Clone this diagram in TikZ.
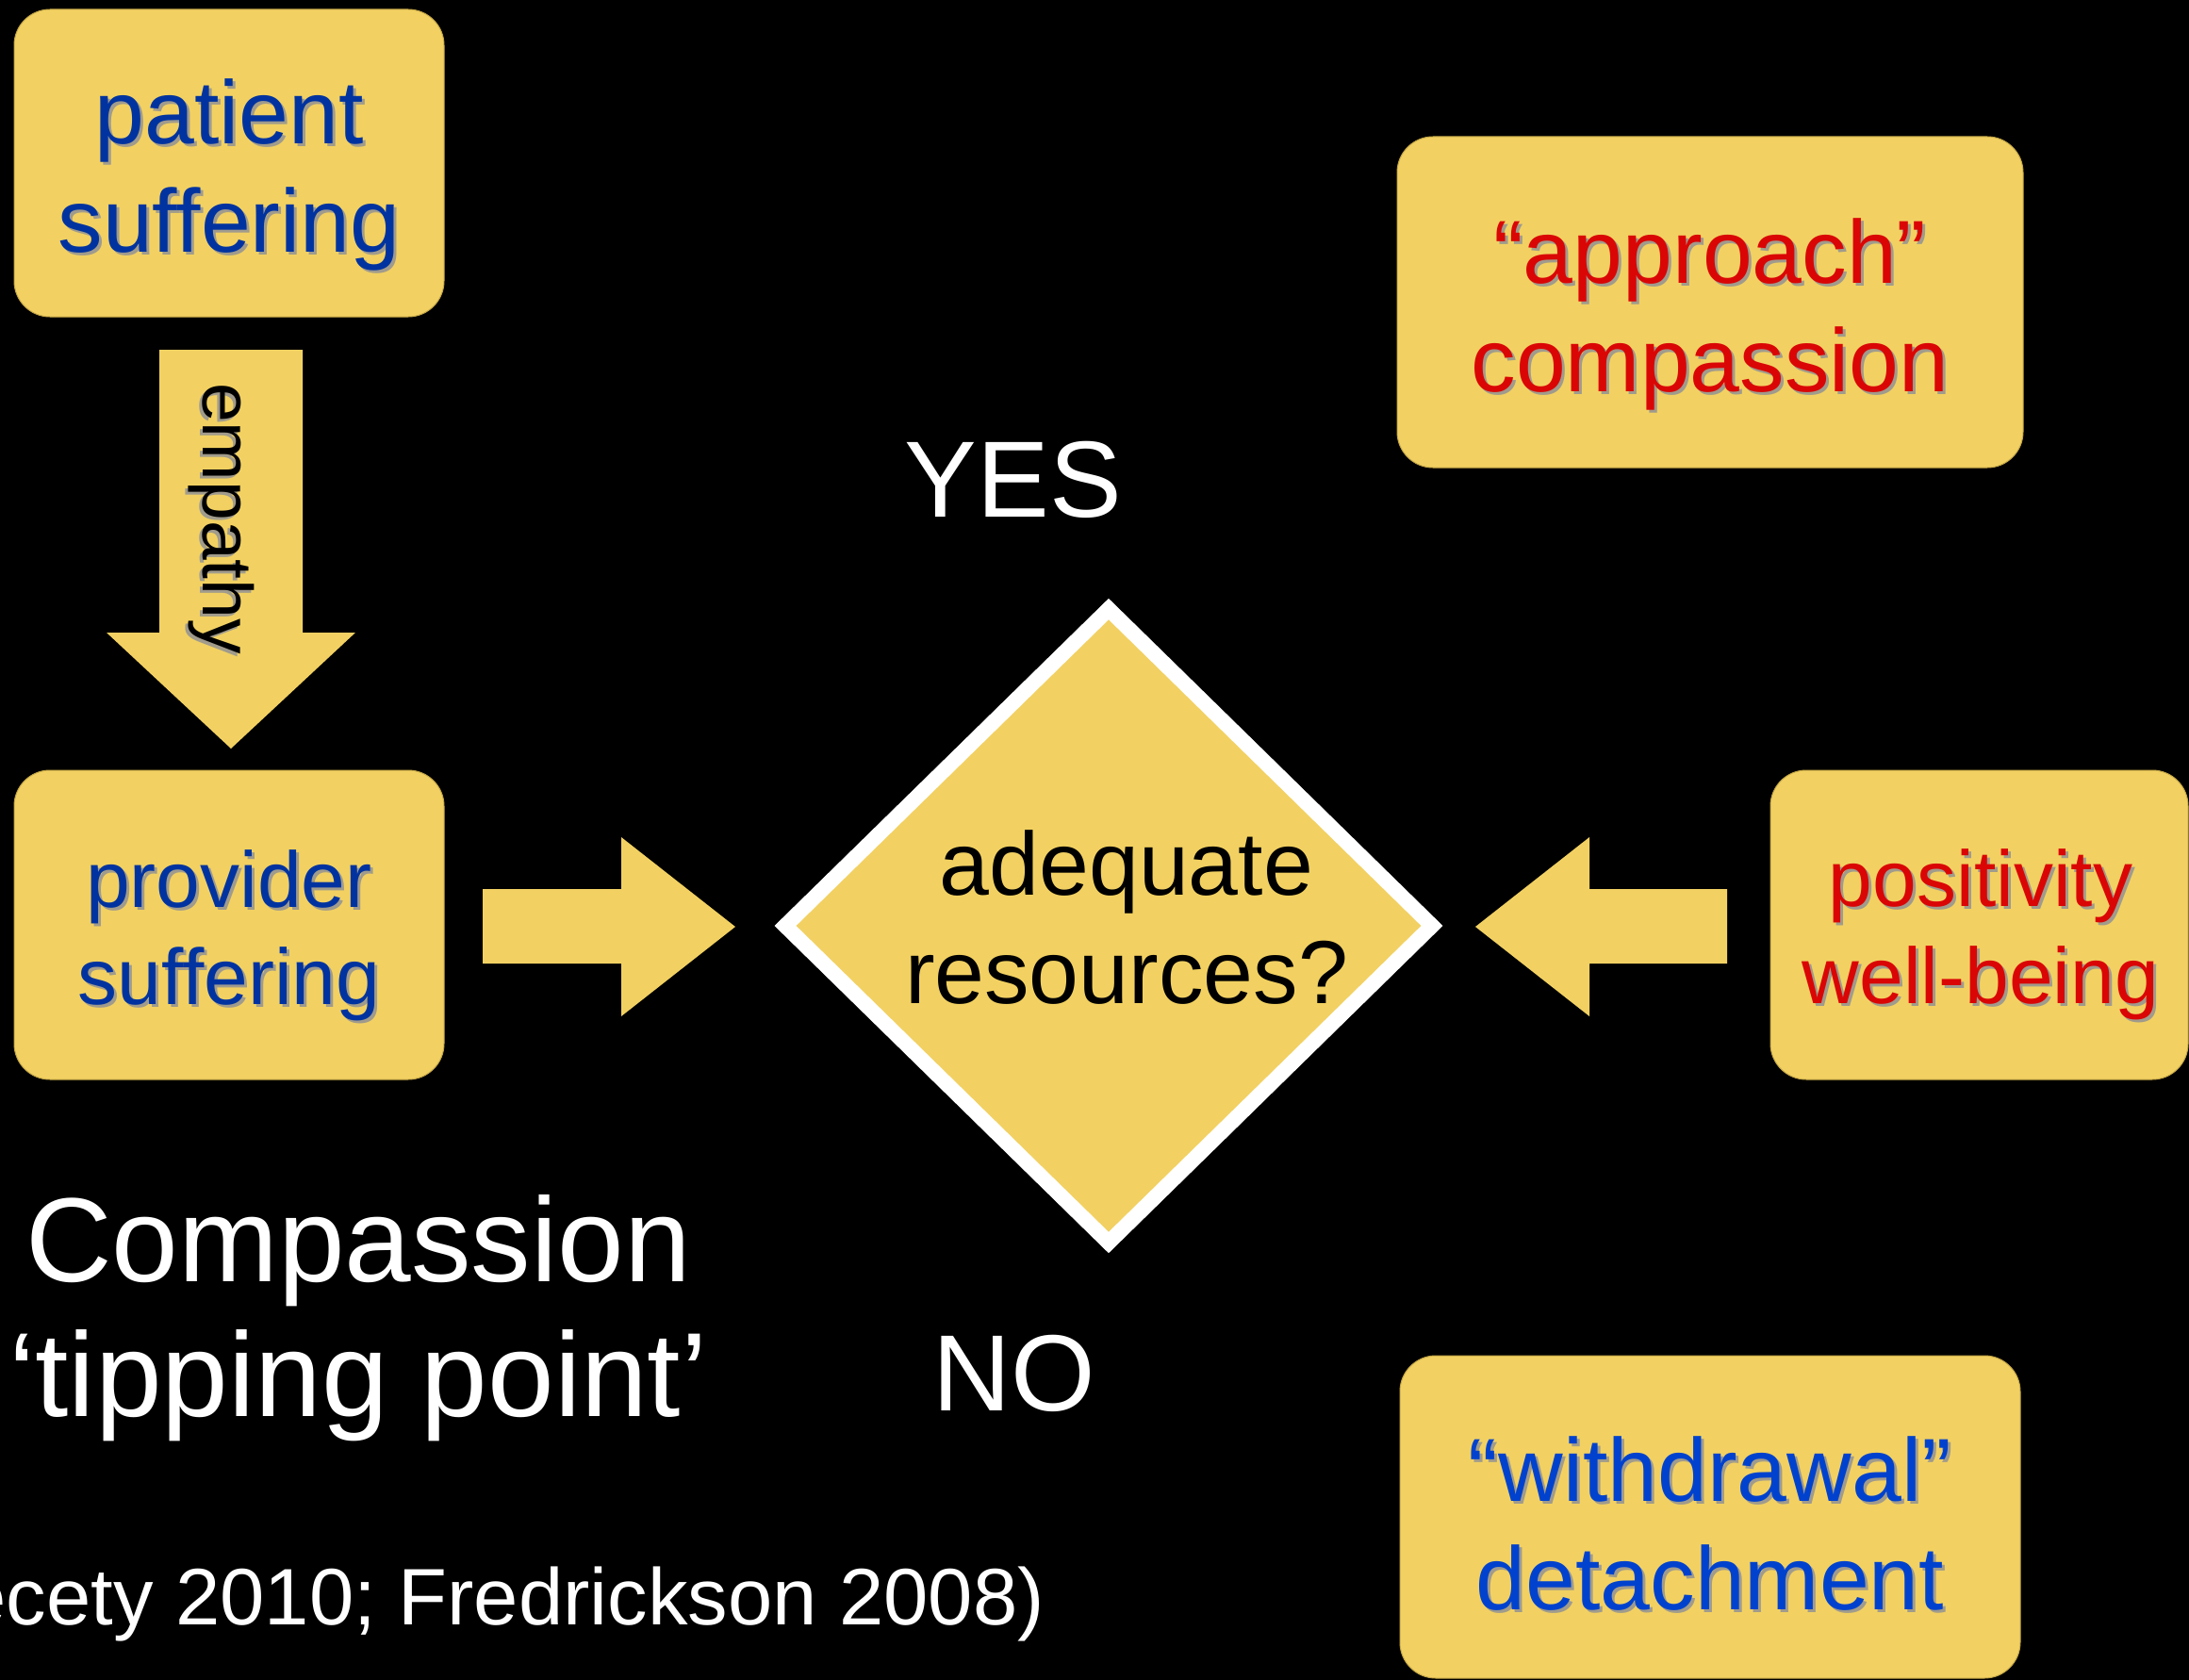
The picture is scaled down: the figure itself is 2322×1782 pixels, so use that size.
\documentclass[tikz,border=0pt]{standalone}
\usepackage{fontspec}
\setmainfont{Liberation Sans}
\usetikzlibrary{calc}
\definecolor{boxyellow}{RGB}{242,209,98}
\definecolor{boxedge}{RGB}{196,166,70}
\definecolor{navy}{RGB}{0,51,160}
\definecolor{royal}{RGB}{0,66,206}
\definecolor{txtred}{RGB}{218,6,6}
\definecolor{shadowgray}{RGB}{160,155,140}
\newcommand{\shadowed}[5]{%
  \node[#4, text=shadowgray] (#1-sh) at ($(#2)+(3,3)$) {#5};
  \node[#4, text=#3] (#1) at (#2) {#5};}
\begin{document}
\begin{tikzpicture}[x=1pt,y=-1pt,
  box/.style={fill=boxyellow, draw=boxedge, line width=1, rounded corners=38},
  blockarrow/.style={fill=boxyellow},
  txt/.style={inner sep=0, align=center},
  big/.style={txt, font=\fontsize{95}{115}\selectfont},
  mid/.style={txt, font=\fontsize{84}{103}\selectfont},
  huge/.style={txt, font=\fontsize{127}{143}\selectfont},
  yn/.style={txt, font=\fontsize{115}{130}\selectfont, text=white},
  cite/.style={txt, font=\fontsize{85}{100}\selectfont, text=white}]
\useasboundingbox (0,0) rectangle (2322,1782);
\fill[black] (0,0) rectangle (2322,1782);
\clip (0,0) rectangle (2322,1782);

% boxes
\draw[box] (15,10) rectangle (471,336);
\coordinate (patientbox) at (243,173);
\draw[box] (15,817) rectangle (471,1145);
\coordinate (providerbox) at (243,981);
\draw[box] (1482,145) rectangle (2146,496);
\coordinate (approachbox) at (1814,320);
\draw[box] (1878,817) rectangle (2321,1145);
\coordinate (positivitybox) at (2100,981);
\draw[box] (1485,1438) rectangle (2143,1780);
\coordinate (withdrawalbox) at (1814,1609);

% diamond
\draw[line width=16, draw=white, fill=boxyellow, line join=miter]
  (1176,646) -- (1519,982) -- (1176,1318) -- (833,982) -- cycle;
\coordinate (decision) at (1176,982);

% block arrows
\fill[blockarrow] (169,371) -- (321,371) -- (321,671) -- (377,671) -- (245,794)
  -- (113,671) -- (169,671) -- cycle;
\fill[blockarrow] (512,943) -- (659,943) -- (659,888) -- (780,983) -- (659,1078)
  -- (659,1022) -- (512,1022) -- cycle;
\fill[blockarrow] (1832,943) -- (1686,943) -- (1686,888) -- (1565,983) -- (1686,1078)
  -- (1686,1022) -- (1832,1022) -- cycle;

% texts
\shadowed{patient}{243,185.5}{navy}{big}{patient\\suffering}
\shadowed{provider}{243,992}{navy}{mid}{provider\\suffering}
\shadowed{approach}{1814,333}{txtred}{big}{“approach”\\compassion}
\shadowed{positivity}{2101,991}{txtred}{mid}{positivity\\well-being}
\shadowed{withdrawal}{1814,1616}{royal}{big}{“withdrawal”\\detachment}

\node[txt, rotate=-90, font=\fontsize{75}{90}\selectfont, text=shadowgray] (empathy-sh) at (231.5,553) {empathy};
\node[txt, rotate=-90, font=\fontsize{75}{90}\selectfont, text=black] (empathy) at (234.5,550) {empathy};

\node[big, text=black] (question) at (1195,973) {adequate\\resources?};

\node[yn, anchor=base] (yes) at (1075,548) {YES};
\node[yn, anchor=base] (no) at (1076,1496) {NO};

\node[huge, text=white] (title) at (380,1398) {Compassion\\‘tipping point’};
\node[cite, anchor=base east] (citation) at (1108,1723) {(Decety 2010; Fredrickson 2008)};
\end{tikzpicture}
\end{document}
